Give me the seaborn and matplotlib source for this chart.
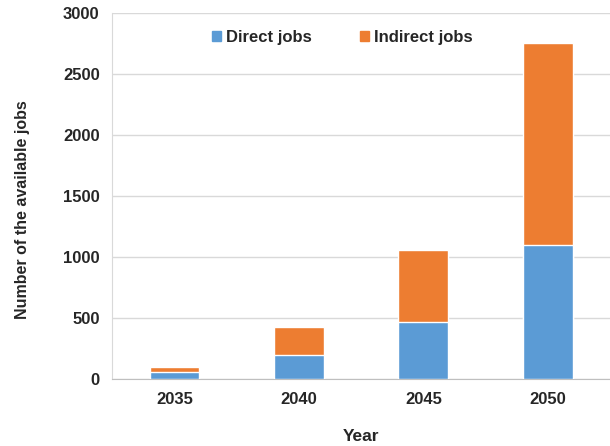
import matplotlib
matplotlib.use("Agg")
import matplotlib.pyplot as plt
import seaborn as sns
import pandas as pd
from matplotlib.patches import Patch

years = ["2035", "2040", "2045", "2050"]
direct_jobs = [55, 200, 470, 1095]
indirect_jobs = [45, 225, 590, 1655]

total_jobs = [d + i for d, i in zip(direct_jobs, indirect_jobs)]
df = pd.DataFrame({"Year": years, "Direct": direct_jobs, "Total": total_jobs})

sns.set_style("white")
plt.rcParams['font.family'] = ['Liberation Sans', 'DejaVu Sans']

blue = "#5B9BD5"
orange = "#ED7D31"

fig = plt.figure(figsize=(6.1, 4.46), dpi=100)
ax = fig.add_axes([0.184, 0.150, 0.816, 0.821])

sns.barplot(data=df, x="Year", y="Total", color=orange, width=0.4, saturation=1, ax=ax, zorder=2)
sns.barplot(data=df, x="Year", y="Direct", color=blue, width=0.4, saturation=1, ax=ax, zorder=3)

ax.set_ylim(0, 3000)
ax.set_xlim(-0.5, 3.5)
ax.set_yticks(range(0, 3001, 500))
ax.yaxis.grid(True, color="#d9d9d9", linewidth=1, zorder=0)
ax.set_axisbelow(True)
for s in ["top", "right"]:
    ax.spines[s].set_visible(False)
ax.spines["left"].set_color("#d9d9d9")
ax.spines["bottom"].set_color("#bfbfbf")
ax.tick_params(axis="both", length=0, labelsize=12, pad=9)
for lbl in ax.get_xticklabels() + ax.get_yticklabels():
    lbl.set_fontweight("bold")

ax.set_xlabel("Year", fontsize=12.5, fontweight="bold", labelpad=16)
ax.set_ylabel("Number of the available jobs", fontsize=11.5, fontweight="bold")
ax.yaxis.set_label_coords(-0.165, 0.464)

handles = [Patch(color=blue, label="Direct jobs"), Patch(color=orange, label="Indirect jobs")]
leg = ax.legend(handles=handles, loc="upper center", bbox_to_anchor=(0.462, 0.995), ncol=2,
                frameon=False, handlelength=0.55, handleheight=0.55, handletextpad=0.3,
                columnspacing=2.9, prop={"size": 12, "weight": "bold"})

fig.savefig("out.png", dpi=100)
